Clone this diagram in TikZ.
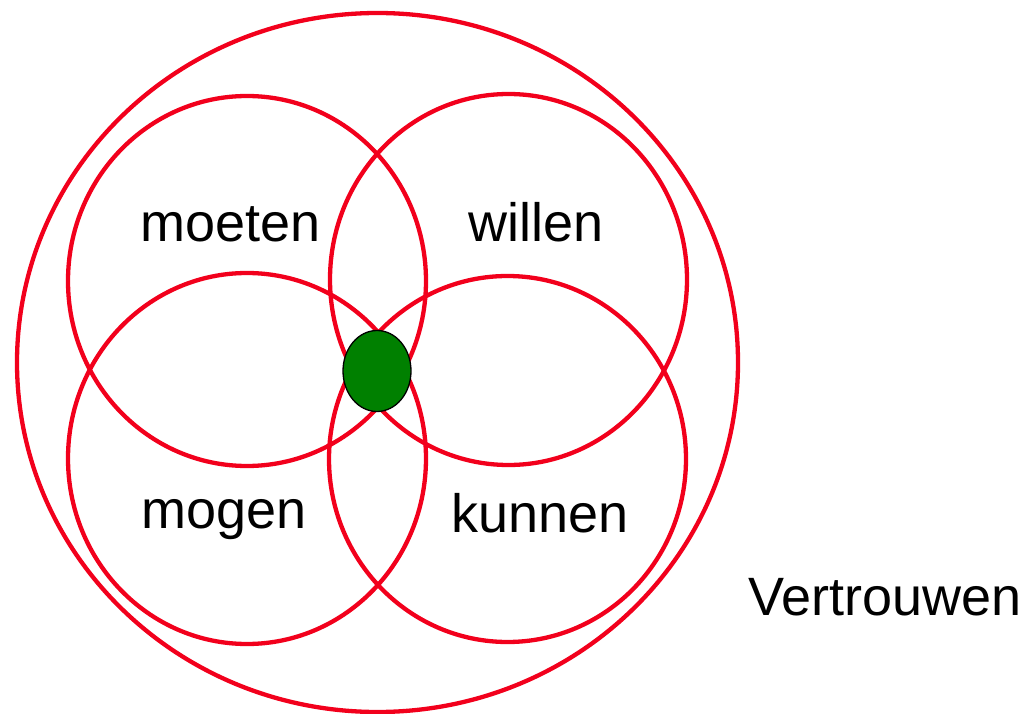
\documentclass[tikz,border=0pt]{standalone}
\usepackage{fontspec}
\setmainfont{Liberation Sans}
\usetikzlibrary{shapes.geometric}
\definecolor{ring}{RGB}{242,0,28}
\definecolor{dot}{RGB}{0,128,0}
\tikzset{
  ringe/.style={ellipse, draw=ring, line width=4.3pt, inner sep=0pt, outer sep=0pt},
  word/.style={anchor=base, inner sep=0pt, font=\fontsize{54}{60}\selectfont}
}
\begin{document}
\begin{tikzpicture}[x=1pt,y=-1pt]
\useasboundingbox (0,0) rectangle (1029,714);
\node[ringe, minimum width=721pt, minimum height=699pt] (outer) at (377.5,362.5) {};
\node[ringe, minimum width=358pt, minimum height=370pt] (moetenc) at (247,281) {};
\node[ringe, minimum width=357pt, minimum height=371pt] (willenc) at (508.5,279.5) {};
\node[ringe, minimum width=358pt, minimum height=371pt] (mogenc) at (247,458.5) {};
\node[ringe, minimum width=357pt, minimum height=366pt] (kunnenc) at (507.5,459) {};
\node[ellipse, draw=black, line width=1.3pt, fill=dot, inner sep=0pt, minimum width=68pt, minimum height=81pt] (center) at (377,371) {};
\node[word] (moeten) at (230.5,242) {moeten};
\node[word] (willen) at (536.5,242) {willen};
\node[word] (mogen) at (224.5,528) {mogen};
\node[word] (kunnen) at (540,532) {kunnen};
\node[word] (vertrouwen) at (885,615) {Vertrouwen};
\end{tikzpicture}
\end{document}
